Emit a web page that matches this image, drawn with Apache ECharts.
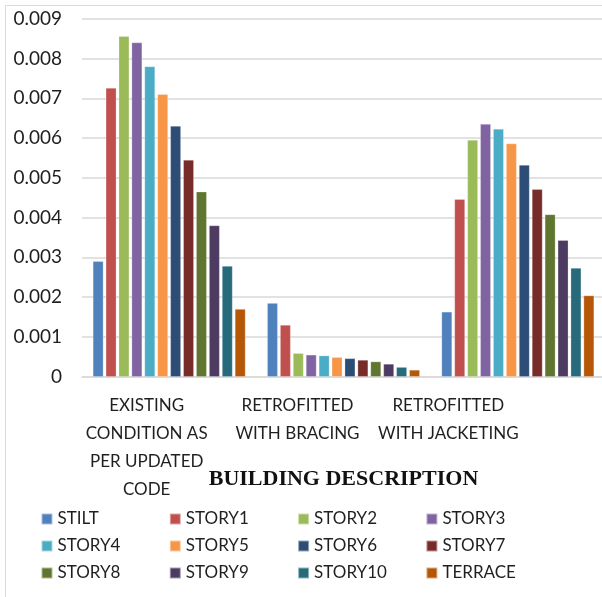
<!DOCTYPE html>
<html>
<head>
<meta charset="utf-8">
<script src="https://cdn.jsdelivr.net/npm/echarts@6/dist/echarts.min.js"></script>
<style>
  html, body { margin: 0; padding: 0; background: #fff; }
  #chart { width: 602px; height: 597px; }
</style>
</head>
<body>
<div id="chart"></div>
<script>
// Building descriptions along the x axis
const categories = [
  'EXISTING\nCONDITION AS\nPER UPDATED\nCODE',
  'RETROFITTED\nWITH BRACING',
  'RETROFITTED\nWITH JACKETING'
];

// Storey drift per level, one value per building description
const STILT   = [0.0029,  0.00185, 0.00163];
const STORY1  = [0.00726, 0.0013,  0.00446];
const STORY2  = [0.00856, 0.00059, 0.00595];
const STORY3  = [0.0084,  0.00055, 0.00635];
const STORY4  = [0.0078,  0.00053, 0.00623];
const STORY5  = [0.0071,  0.00049, 0.00586];
const STORY6  = [0.0063,  0.00046, 0.00532];
const STORY7  = [0.00545, 0.00042, 0.00471];
const STORY8  = [0.00465, 0.00038, 0.00408];
const STORY9  = [0.0038,  0.00032, 0.00343];
const STORY10 = [0.00278, 0.00024, 0.00273];
const TERRACE = [0.0017,  0.00017, 0.00204];

const seriesNames = ['STILT', 'STORY1', 'STORY2', 'STORY3', 'STORY4', 'STORY5',
                     'STORY6', 'STORY7', 'STORY8', 'STORY9', 'STORY10', 'TERRACE'];
const seriesValues = [STILT, STORY1, STORY2, STORY3, STORY4, STORY5,
                      STORY6, STORY7, STORY8, STORY9, STORY10, TERRACE];

// Y axis ticks
const yMin = 0, yMax = 0.009, yStep = 0.001;

const colors = ['#4F81BD', '#C0504D', '#9BBB59', '#8064A2', '#4BACC6', '#F79646',
                '#2C4D75', '#772C2A', '#5F7530', '#4D3B62', '#276A7C', '#B65708'];

const font = 'Lato, "Open Sans", "Liberation Sans", sans-serif';

// each category label block is nudged left by a right padding
const labelShift = [45, 92, 139];
const rich = {};
labelShift.forEach((p, i) => {
  rich['c' + i] = { fontSize: 17, lineHeight: 28, color: '#1f1f1f', fontFamily: font, padding: [0, p, 0, 0] };
});

const chart = echarts.init(document.getElementById('chart'), null, { renderer: 'canvas' });

chart.setOption({
  animation: false,
  color: colors,
  graphic: [{
    type: 'rect',
    shape: { x: 5.5, y: 5.5, width: 620, height: 620 },
    style: { fill: 'none', stroke: '#d9d9d9', lineWidth: 1 },
    silent: true,
    z: -10
  }],
  grid: { left: 82, width: 523, top: 18.7, bottom: 220.3, containLabel: false, outerBoundsMode: 'none' },
  legend: {
    data: seriesNames,
    left: 40.5,
    top: 510.5,
    width: 540,
    padding: 0,
    icon: 'rect',
    itemWidth: 11,
    itemHeight: 11,
    itemGap: 10,
    textStyle: { fontSize: 17, fontFamily: font, color: '#1f1f1f', width: 101.3, lineHeight: 17, overflow: 'none' }
  },
  xAxis: {
    type: 'category',
    data: categories,
    name: 'BUILDING DESCRIPTION',
    nameLocation: 'middle',
    nameGap: 92,
    nameMoveOverlap: false,
    nameTextStyle: { fontFamily: '"Liberation Serif", "DejaVu Serif", serif', fontWeight: 'bold', fontSize: 22, color: '#111' },
    axisLine: { lineStyle: { color: '#d9d9d9', width: 1.5 } },
    axisTick: { show: false },
    axisLabel: {
      interval: 0,
      margin: 15,
      formatter: (value, index) => value.split('\n').map(l => '{c' + index + '|' + l + '}').join('\n'),
      rich: rich
    }
  },
  yAxis: {
    type: 'value',
    min: yMin,
    max: yMax,
    interval: yStep,
    axisLine: { show: false },
    axisTick: { show: false },
    splitLine: { lineStyle: { color: '#d9d9d9', width: 1.5 } },
    axisLabel: {
      margin: 20,
      fontSize: 19,
      fontFamily: font,
      color: '#1f1f1f',
      formatter: v => (Math.abs(v) < 1e-12 ? '0' : v.toFixed(3))
    }
  },
  series: seriesNames.map((name, i) => ({
    name: name,
    type: 'bar',
    data: seriesValues[i],
    barWidth: 10.5,
    barGap: '23%',
    itemStyle: { borderColor: 'rgba(255,255,255,0.5)', borderWidth: 0.5 }
  }))
});
</script>
</body>
</html>
